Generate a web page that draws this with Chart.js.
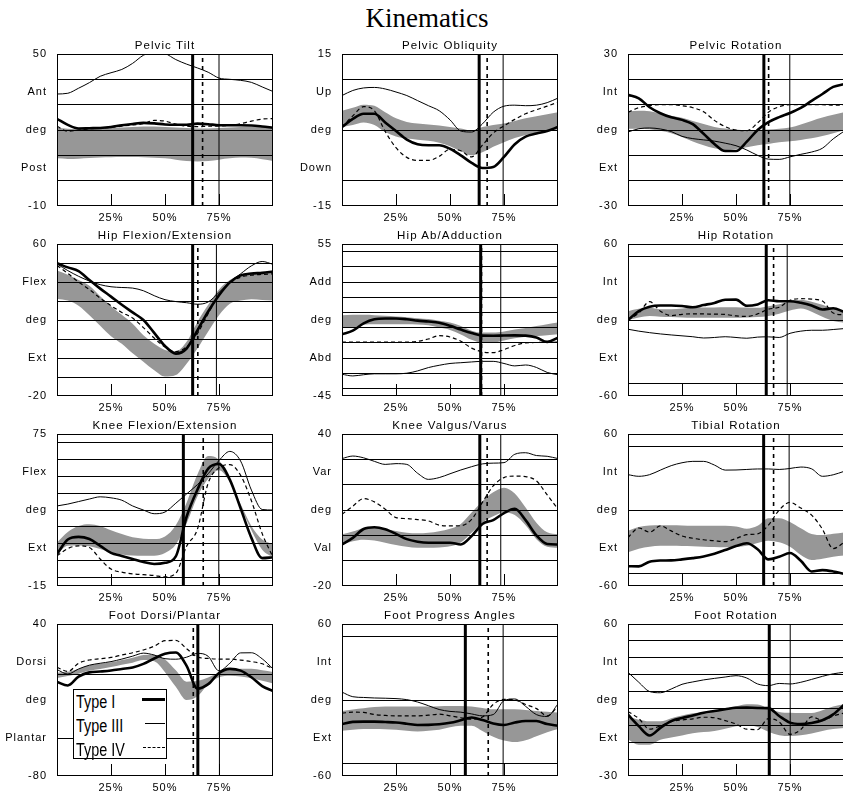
<!DOCTYPE html>
<html>
<head>
<meta charset="utf-8">
<title>Kinematics</title>
<script src="https://cdn.jsdelivr.net/npm/chart.js@4.4.1/dist/chart.umd.min.js"></script>
<style>
  html, body { margin: 0; padding: 0; background: #fff; }
  body { width: 843px; height: 798px; position: relative; overflow: hidden; font-family: "Liberation Sans", Arial, sans-serif; }
  canvas { position: absolute; }
  .ttl { position: absolute; width: 216px; text-align: center; font-size: 11.5px; letter-spacing: 1.1px; line-height: 11px; color: #000; white-space: nowrap; }
  #main { position: absolute; left: 300px; width: 254px; top: 5px; text-align: center; font-family: "Liberation Serif", "Times New Roman", serif; font-size: 27px; line-height: 27px; }
  #legend { position: absolute; left: 73px; top: 689px; width: 92px; height: 68px; border: 1px solid #000; background: #fff; z-index: 5; }
  #legend .lt { position: absolute; left: 2px; font-size: 18px; line-height: 18px; transform: scaleX(0.8); transform-origin: left center; white-space: nowrap; }
  #legend .ls { position: absolute; height: 0; border-top-color: #000; }
</style>
</head>
<body>
<div id="main">Kinematics</div>
<div id="legend">
  <span class="lt" style="top:3px">Type I</span>
  <span class="ls" style="left:68px; width:23px; top:8px; border-top:3px solid #000"></span>
  <span class="lt" style="top:27px">Type III</span>
  <span class="ls" style="left:71px; width:20px; top:33px; border-top:1px solid #000"></span>
  <span class="lt" style="top:51px">Type IV</span>
  <span class="ls" style="left:69px; width:22px; top:57px; border-top:1px dashed #000"></span>
</div>
<script>
// gait cycle samples (%)
const pct = [0, 5, 10, 15, 20, 25, 30, 35, 40, 45, 50, 55, 60, 65, 70, 75, 80, 85, 90, 95, 100];
const xTicks = [25, 50, 75];

// Pelvic Tilt
const tiltRange = [-10, 50];
const tiltLabels = ['50', 'Ant', 'deg', 'Post', '-10'];
const tiltGrid = [0, 10, 20, 30, 40];
const tiltToeOff = [62.8, 75.0, 67.4];
const tiltNormHi = [21.0, 20.5, 20.3, 20.5, 20.6, 20.8, 21.0, 21.2, 21.4, 21.4, 21.2, 21.0, 20.8, 20.6, 20.6, 20.8, 21.0, 21.2, 21.3, 21.2, 21.0];
const tiltNormLo = [8.8, 8.6, 8.7, 8.9, 9.1, 9.2, 9.3, 9.3, 9.2, 9.0, 8.8, 8.3, 7.8, 7.6, 7.8, 8.3, 8.8, 9.1, 9.0, 8.5, 7.8];
const tiltTypeI = [24.4, 22.0, 20.6, 20.7, 20.8, 21.2, 21.9, 22.4, 22.8, 22.6, 22.2, 22.1, 22.1, 22.5, 22.3, 21.9, 21.9, 21.9, 21.8, 21.4, 20.9];
const tiltTypeIII = [34.2, 34.5, 36.5, 38.7, 41.2, 42.6, 43.9, 46.3, 49.5, 50.8, 50.2, 47.8, 46.0, 44.5, 42.8, 40.5, 40.0, 39.6, 38.8, 37.0, 35.2];
const tiltTypeIV = [21.5, 19.5, 20.0, 20.5, 20.7, 21.0, 21.5, 22.0, 22.5, 23.8, 23.5, 22.3, 21.5, 21.3, 21.5, 21.6, 21.8, 22.5, 23.5, 24.3, 24.5];

// Pelvic Obliquity
const obliqRange = [-15, 15];
const obliqLabels = ['15', 'Up', 'deg', 'Down', '-15'];
const obliqGrid = [-10, 0, 10];
const obliqToeOff = [63.5, 74.6, 67.2];
const obliqNormHi = [3.8, 4.4, 5.0, 4.8, 3.5, 2.3, 1.6, 1.3, 1.1, 0.9, 0.6, 0.3, -0.1, 0.6, 1.0, 1.3, 1.8, 2.3, 2.7, 3.1, 3.5];
const obliqNormLo = [0.6, 1.0, 1.5, 1.0, -0.4, -1.3, -1.7, -1.9, -2.1, -2.5, -3.2, -4.2, -5.0, -4.4, -3.3, -2.4, -1.6, -1.0, -0.6, -0.2, 0.1];
const obliqTypeI = [0.6, 2.2, 3.2, 3.2, 1.5, -0.2, -1.9, -2.8, -3.0, -3.0, -3.7, -5.0, -6.5, -7.5, -7.3, -5.3, -2.8, -1.3, -0.7, -0.2, 0.6];
const obliqTypeIII = [6.8, 7.8, 8.3, 8.4, 8.1, 7.5, 6.8, 5.8, 4.8, 3.8, 2.0, -0.2, -0.4, 1.2, 3.5, 4.7, 4.9, 4.8, 4.9, 5.4, 6.3];
const obliqTypeIV = [0.6, 2.8, 4.6, 3.8, -0.3, -3.5, -5.4, -6.0, -6.0, -5.2, -3.8, -4.1, -5.3, -3.0, -0.6, 0.8, 2.1, 3.2, 4.0, 4.7, 5.5];

// Pelvic Rotation
const pelRotRange = [-30, 30];
const pelRotLabels = ['30', 'Int', 'deg', 'Ext', '-30'];
const pelRotGrid = [-20, -10, 0, 10, 20];
const pelRotToeOff = [62.9, 74.9, 65.1];
const pelRotNormHi = [7.3, 7.6, 7.4, 6.5, 5.6, 4.8, 3.6, 2.4, 1.2, 0.6, 0.2, -0.1, 0.0, 0.2, 0.5, 1.0, 2.2, 3.6, 4.9, 6.0, 7.0];
const pelRotNormLo = [0.5, 0.5, 0.3, -0.3, -1.3, -2.8, -4.5, -6.0, -7.2, -7.9, -7.5, -6.8, -6.0, -5.5, -4.8, -4.4, -3.9, -3.3, -2.4, -1.3, -0.1];
const pelRotTypeI = [13.9, 12.5, 9.0, 6.6, 5.0, 4.0, 2.3, -1.5, -5.5, -8.3, -8.3, -4.6, 0.0, 3.1, 5.1, 6.7, 8.7, 11.5, 14.2, 17.0, 18.1];
const pelRotTypeIII = [-0.8, 0.5, 0.8, 0.4, -0.6, -2.5, -3.4, -3.9, -4.4, -5.2, -6.2, -7.9, -10.0, -11.5, -11.6, -10.6, -9.6, -8.7, -7.2, -3.5, -0.5];
const pelRotTypeIV = [7.0, 8.8, 9.6, 10.0, 10.0, 9.6, 8.8, 7.2, 3.8, 1.3, 0.0, -0.3, 2.8, 7.0, 9.2, 10.0, 10.0, 10.0, 10.0, 9.8, 9.8];

// Hip Flexion/Extension
const hipFlexRange = [-20, 60];
const hipFlexLabels = ['60', 'Flex', 'deg', 'Ext', '-20'];
const hipFlexGrid = [-10, 0, 10, 20, 30, 40, 50];
const hipFlexToeOff = [62.8, 73.8, 65.2];
const hipFlexNormHi = [46.0, 43.8, 41.0, 38.0, 32.5, 27.3, 22.7, 18.0, 12.0, 7.5, 4.2, 3.5, 8.5, 19.0, 28.0, 36.0, 41.0, 43.5, 44.4, 44.8, 45.2];
const hipFlexNormLo = [31.2, 30.2, 27.5, 22.5, 17.0, 11.5, 7.5, 2.5, -2.0, -6.5, -9.8, -9.0, -3.0, 5.0, 14.0, 22.5, 28.5, 30.2, 30.9, 30.5, 30.3];
const hipFlexTypeI = [49.9, 47.7, 45.7, 41.0, 36.5, 32.3, 28.0, 24.0, 20.0, 13.2, 6.3, 2.3, 5.0, 14.5, 24.5, 33.0, 39.8, 43.5, 44.5, 44.8, 45.5];
const hipFlexTypeIII = [49.5, 46.0, 43.0, 40.5, 38.6, 37.5, 37.1, 36.8, 35.4, 32.8, 30.7, 29.7, 29.1, 28.3, 29.5, 34.5, 40.0, 44.3, 48.5, 50.8, 49.3];
const hipFlexTypeIV = [48.7, 44.5, 40.0, 36.0, 31.5, 27.5, 24.0, 21.0, 16.0, 10.5, 5.8, 3.4, 5.9, 12.8, 23.5, 33.0, 39.5, 42.5, 43.6, 44.0, 44.3];

// Hip Ab/Adduction
const hipAbRange = [-45, 55];
const hipAbLabels = ['55', 'Add', 'deg', 'Abd', '-45'];
const hipAbGrid = [-40, -30, -20, -10, 0, 10, 20, 30, 40, 50];
const hipAbToeOff = [64.2, 73.5, 64.6];
const hipAbNormHi = [8.2, 8.5, 8.4, 8.2, 7.8, 7.3, 6.8, 6.2, 5.6, 4.5, 3.3, 1.0, -2.0, -3.3, -3.3, -2.5, -1.3, -0.2, 1.0, 2.2, 3.3];
const hipAbNormLo = [0.0, 0.0, 1.8, 2.2, 2.2, 2.2, 2.2, 2.0, 1.5, 0.0, -1.5, -4.5, -8.0, -10.0, -9.8, -8.5, -7.0, -6.0, -5.5, -5.0, -4.4];
const hipAbTypeI = [-4.4, -2.0, 2.8, 5.5, 6.0, 6.0, 5.5, 4.6, 4.0, 3.2, 1.2, -1.3, -3.6, -5.3, -5.4, -5.2, -5.1, -5.3, -6.5, -9.4, -6.7];
const hipAbTypeIII = [-30.7, -31.8, -31.0, -30.4, -30.4, -30.4, -30.0, -28.5, -26.3, -24.8, -23.6, -23.1, -22.6, -22.2, -22.2, -23.6, -25.2, -24.6, -26.2, -29.5, -31.0];
const hipAbTypeIV = [-9.6, -9.6, -9.6, -9.6, -9.6, -9.6, -9.6, -9.0, -7.5, -5.3, -6.2, -9.0, -13.5, -16.0, -16.5, -14.5, -11.8, -10.0, -9.8, -9.7, -9.6];

// Hip Rotation
const hipRotRange = [-60, 60];
const hipRotLabels = ['60', 'Int', 'deg', 'Ext', '-60'];
const hipRotGrid = [-50, 0, 50];
const hipRotToeOff = [64.0, 73.7, 67.4];
const hipRotNormHi = [7.0, 8.8, 9.6, 8.5, 8.5, 9.0, 9.6, 9.8, 9.9, 10.0, 10.1, 9.8, 9.6, 10.9, 12.5, 14.8, 16.0, 14.5, 12.0, 9.0, 7.0];
const hipRotNormLo = [0.0, 2.0, 3.1, 2.5, 2.3, 2.0, 1.8, 1.8, 1.8, 1.8, 1.8, 2.0, 2.3, 3.1, 5.0, 7.5, 9.0, 6.5, 2.5, -0.8, -2.1];
const hipRotTypeI = [0.0, 7.0, 10.5, 11.4, 11.4, 11.0, 10.1, 11.8, 13.5, 16.0, 16.1, 11.2, 12.3, 15.6, 14.8, 14.8, 13.6, 11.5, 8.3, 9.3, 6.5];
const hipRotTypeIII = [-7.3, -8.8, -10.0, -11.0, -11.8, -12.5, -13.2, -14.2, -13.8, -13.2, -13.8, -14.4, -13.5, -13.3, -13.8, -10.5, -8.8, -8.1, -8.1, -7.5, -6.8];
const hipRotTypeIV = [0.0, 5.5, 14.5, 7.0, 3.5, 4.5, 4.9, 4.8, 4.6, 4.4, 3.2, 2.8, 4.8, 8.5, 10.1, 15.5, 16.8, 16.5, 15.0, 5.5, 4.0];

// Knee Flexion/Extension
const kneeFlexRange = [-15, 75];
const kneeFlexLabels = ['75', 'Flex', 'deg', 'Ext', '-15'];
const kneeFlexGrid = [-10, 0, 10, 20, 30, 40, 50, 60, 70];
const kneeFlexToeOff = [58.5, 74.9, 67.7];
const kneeFlexNormHi = [10.8, 17.0, 20.5, 21.5, 20.6, 18.0, 15.8, 13.8, 13.0, 12.8, 14.3, 21.0, 34.3, 51.0, 62.0, 59.5, 47.0, 33.5, 20.5, 12.5, 9.8];
const kneeFlexNormLo = [3.9, 8.8, 9.0, 8.5, 6.9, 5.0, 3.6, 3.0, 2.9, 2.9, 4.5, 9.5, 22.0, 38.0, 48.5, 53.5, 46.5, 32.0, 18.0, 6.5, 2.0];
const kneeFlexTypeI = [3.9, 12.5, 14.1, 12.8, 8.8, 4.6, 2.8, 1.0, -0.8, -2.0, -1.3, 2.5, 26.0, 42.0, 54.5, 57.2, 48.0, 31.0, 13.5, 1.5, 2.0];
const kneeFlexTypeIII = [32.4, 33.5, 35.0, 36.5, 37.8, 37.2, 35.8, 32.4, 30.0, 27.8, 28.8, 34.0, 39.5, 45.0, 51.5, 59.3, 64.7, 59.0, 41.8, 30.3, 30.0];
const kneeFlexTypeIV = [2.9, 7.2, 8.8, 7.8, 1.0, -5.0, -6.8, -7.8, -8.3, -8.8, -9.6, -7.5, 8.5, 18.6, 46.0, 55.0, 56.9, 50.5, 35.5, 16.0, 2.0];

// Knee Valgus/Varus
const kneeVarRange = [-20, 40];
const kneeVarLabels = ['40', 'Var', 'deg', 'Val', '-20'];
const kneeVarGrid = [-10, 0, 10, 20, 30];
const kneeVarToeOff = [63.8, 73.5, 67.2];
const kneeVarNormHi = [0.4, 1.5, 2.8, 3.0, 2.4, 1.7, 1.0, 0.8, 1.0, 1.6, 2.6, 4.5, 9.0, 13.5, 17.0, 18.8, 16.5, 11.0, 5.0, 1.2, 0.4];
const kneeVarNormLo = [-3.6, -2.3, -1.7, -2.0, -2.9, -3.8, -4.5, -4.9, -4.9, -4.8, -4.3, -2.8, 1.0, 5.0, 7.5, 9.0, 8.0, 4.0, -1.5, -4.5, -4.9];
const kneeVarTypeI = [-3.6, -1.0, 2.5, 3.2, 2.4, 0.6, -1.5, -2.5, -2.9, -2.9, -2.9, -3.6, -0.3, 4.5, 6.0, 8.8, 10.5, 6.0, 0.0, -3.4, -3.6];
const kneeVarTypeIII = [30.3, 31.3, 30.6, 29.2, 28.0, 28.3, 28.0, 24.5, 22.1, 22.8, 24.3, 25.8, 27.1, 28.2, 28.5, 28.7, 32.0, 32.6, 31.5, 31.2, 30.3];
const kneeVarTypeIV = [8.3, 11.5, 14.5, 13.2, 10.3, 7.0, 6.6, 6.2, 5.7, 4.0, 3.7, 3.8, 6.3, 13.0, 19.5, 22.8, 23.4, 23.2, 21.5, 16.0, 10.3];

// Tibial Rotation
const tibRotRange = [-60, 60];
const tibRotLabels = ['60', 'Int', 'deg', 'Ext', '-60'];
const tibRotGrid = [-50, 0, 50];
const tibRotToeOff = [62.8, 74.6, 67.4];
const tibRotNormHi = [-16.4, -13.5, -12.3, -12.0, -12.0, -12.2, -12.5, -12.5, -12.5, -12.5, -13.0, -14.8, -12.5, -6.5, -6.5, -9.5, -14.5, -19.0, -19.8, -18.8, -17.8];
const tibRotNormLo = [-33.4, -30.5, -29.0, -28.2, -28.3, -28.5, -28.7, -29.0, -29.2, -29.5, -29.0, -28.2, -26.0, -24.3, -25.5, -29.0, -35.5, -39.5, -38.5, -37.0, -36.0];
const tibRotTypeI = [-44.4, -44.5, -40.8, -39.9, -39.8, -39.0, -38.0, -36.7, -34.5, -31.6, -28.5, -26.3, -31.0, -39.0, -37.0, -34.0, -40.0, -48.5, -47.5, -48.5, -50.4];
const tibRotTypeIII = [27.9, 26.6, 27.9, 31.5, 35.0, 37.3, 38.4, 38.4, 35.5, 31.5, 31.6, 32.0, 32.4, 32.4, 32.0, 32.8, 33.9, 32.5, 26.6, 27.8, 30.5];
const tibRotTypeIV = [-21.7, -14.2, -17.5, -12.5, -16.5, -20.5, -22.3, -23.5, -24.3, -25.0, -22.5, -19.5, -18.8, -12.0, 0.0, 6.0, 1.5, -4.0, -15.1, -30.5, -25.6];

// Foot Dorsi/Plantar
const footDPRange = [-80, 40];
const footDPLabels = ['40', 'Dorsi', 'deg', 'Plantar', '-80'];
const footDPGrid = [-50, 0];
const footDPToeOff = [65.2, 75.2, 63.1];
const footDPNormHi = [1.5, 2.3, 4.5, 7.5, 8.7, 9.8, 11.5, 13.3, 15.5, 15.8, 12.0, 3.5, -5.5, -5.0, -2.3, 1.7, 4.0, 4.6, 4.6, 3.5, 2.1];
const footDPNormLo = [-2.6, -1.0, 0.8, 3.0, 4.4, 6.0, 7.8, 9.5, 11.5, 10.5, 2.0, -9.5, -20.0, -17.0, -7.5, -2.0, -0.8, -1.5, -2.8, -4.8, -6.9];
const footDPTypeI = [-5.7, -8.5, -1.5, 1.8, 2.5, 3.3, 4.5, 5.7, 8.5, 12.8, 16.5, 17.5, 7.0, -11.0, -7.5, 1.3, 4.6, 3.2, -2.0, -9.0, -12.9];
const footDPTypeIII = [4.0, 0.5, 4.5, 7.5, 9.0, 10.3, 12.3, 14.6, 17.0, 15.5, 12.6, 12.2, 13.8, 16.8, 14.5, 3.0, 9.0, 17.2, 17.3, 12.5, 4.6];
const footDPTypeIV = [5.9, 2.5, 9.0, 11.6, 12.6, 13.6, 15.5, 17.3, 19.5, 22.5, 26.8, 27.0, 20.5, 14.0, 12.8, 12.3, 12.3, 11.5, 10.3, 8.6, 4.6];

// Foot Progress Angles
const footProgRange = [-60, 60];
const footProgLabels = ['60', 'Int', 'deg', 'Ext', '-60'];
const footProgGrid = [-50, 0, 50];
const footProgToeOff = [57.1, 74.6, 67.7];
const footProgNormHi = [-8.6, -7.5, -6.5, -5.6, -5.2, -5.2, -5.2, -5.2, -5.1, -4.9, -4.7, -4.7, -5.2, -6.3, -7.3, -7.3, -7.3, -7.8, -8.6, -9.2, -9.9];
const footProgNormLo = [-24.2, -23.5, -22.9, -22.9, -23.0, -23.5, -24.3, -24.9, -24.2, -23.4, -21.5, -20.3, -20.3, -24.5, -29.0, -32.0, -33.2, -31.8, -28.6, -25.5, -22.9];
const footProgTypeI = [-19.0, -17.3, -17.1, -17.1, -17.4, -17.8, -18.7, -19.7, -19.6, -19.1, -18.0, -16.0, -13.8, -15.8, -18.5, -19.7, -17.8, -16.6, -16.6, -19.0, -20.3];
const footProgTypeIII = [6.2, 2.6, 2.0, 1.6, 1.4, 1.1, 0.3, -1.6, -4.5, -7.5, -9.0, -9.6, -11.0, -12.5, -11.5, -0.5, 0.8, -5.0, -11.5, -13.0, -3.0];
const footProgTypeIV = [-10.4, -9.6, -9.8, -11.5, -12.2, -12.5, -12.5, -12.5, -12.0, -11.2, -12.5, -14.0, -15.1, -13.5, -3.5, 0.5, 0.0, -3.5, -6.8, -12.5, -5.0];

// Foot Rotation
const footRotRange = [-30, 60];
const footRotLabels = ['60', 'Int', 'deg', 'Ext', '-30'];
const footRotGrid = [-20, -10, 0, 10, 20, 30, 40, 50];
const footRotToeOff = [65.4, 75.1, 65.4];
const footRotNormHi = [5.3, 3.3, 2.4, 2.4, 4.2, 5.8, 7.1, 7.8, 8.3, 9.8, 11.3, 12.5, 12.4, 10.0, 7.9, 7.4, 7.3, 7.3, 9.0, 11.2, 12.5];
const footRotNormLo = [-8.4, -11.5, -11.5, -8.6, -7.2, -6.0, -4.7, -4.0, -3.3, -2.0, -0.6, 0.2, -1.0, -3.8, -5.8, -6.3, -5.8, -4.8, -3.3, -2.2, -1.6];
const footRotTypeI = [6.3, -0.5, -6.0, -1.5, 2.5, 4.4, 5.8, 7.5, 8.5, 9.5, 10.4, 10.5, 10.3, 10.2, 5.5, 1.6, 0.8, 1.4, 3.0, 6.5, 12.2];
const footRotTypeIII = [31.4, 25.5, 20.0, 19.3, 21.5, 24.3, 25.7, 26.9, 27.8, 28.6, 29.4, 28.0, 24.5, 23.5, 24.8, 24.5, 25.5, 27.2, 29.0, 30.5, 31.4];
const footRotTypeIV = [8.2, 4.0, -2.3, -0.3, 2.2, 3.2, 3.8, 4.8, 4.5, 2.8, 0.8, -2.3, -2.5, 4.0, 2.0, -5.3, -2.5, 5.0, 3.0, 5.5, 7.3];

const panels = [
  { title: 'Pelvic Tilt', range: tiltRange, labels: tiltLabels, grid: tiltGrid, toe: tiltToeOff, hi: tiltNormHi, lo: tiltNormLo, t1: tiltTypeI, t3: tiltTypeIII, t4: tiltTypeIV },
  { title: 'Pelvic Obliquity', range: obliqRange, labels: obliqLabels, grid: obliqGrid, toe: obliqToeOff, hi: obliqNormHi, lo: obliqNormLo, t1: obliqTypeI, t3: obliqTypeIII, t4: obliqTypeIV },
  { title: 'Pelvic Rotation', range: pelRotRange, labels: pelRotLabels, grid: pelRotGrid, toe: pelRotToeOff, hi: pelRotNormHi, lo: pelRotNormLo, t1: pelRotTypeI, t3: pelRotTypeIII, t4: pelRotTypeIV },
  { title: 'Hip Flexion/Extension', range: hipFlexRange, labels: hipFlexLabels, grid: hipFlexGrid, toe: hipFlexToeOff, hi: hipFlexNormHi, lo: hipFlexNormLo, t1: hipFlexTypeI, t3: hipFlexTypeIII, t4: hipFlexTypeIV },
  { title: 'Hip Ab/Adduction', range: hipAbRange, labels: hipAbLabels, grid: hipAbGrid, toe: hipAbToeOff, hi: hipAbNormHi, lo: hipAbNormLo, t1: hipAbTypeI, t3: hipAbTypeIII, t4: hipAbTypeIV },
  { title: 'Hip Rotation', range: hipRotRange, labels: hipRotLabels, grid: hipRotGrid, toe: hipRotToeOff, hi: hipRotNormHi, lo: hipRotNormLo, t1: hipRotTypeI, t3: hipRotTypeIII, t4: hipRotTypeIV },
  { title: 'Knee Flexion/Extension', range: kneeFlexRange, labels: kneeFlexLabels, grid: kneeFlexGrid, toe: kneeFlexToeOff, hi: kneeFlexNormHi, lo: kneeFlexNormLo, t1: kneeFlexTypeI, t3: kneeFlexTypeIII, t4: kneeFlexTypeIV },
  { title: 'Knee Valgus/Varus', range: kneeVarRange, labels: kneeVarLabels, grid: kneeVarGrid, toe: kneeVarToeOff, hi: kneeVarNormHi, lo: kneeVarNormLo, t1: kneeVarTypeI, t3: kneeVarTypeIII, t4: kneeVarTypeIV },
  { title: 'Tibial Rotation', range: tibRotRange, labels: tibRotLabels, grid: tibRotGrid, toe: tibRotToeOff, hi: tibRotNormHi, lo: tibRotNormLo, t1: tibRotTypeI, t3: tibRotTypeIII, t4: tibRotTypeIV },
  { title: 'Foot Dorsi/Plantar', range: footDPRange, labels: footDPLabels, grid: footDPGrid, toe: footDPToeOff, hi: footDPNormHi, lo: footDPNormLo, t1: footDPTypeI, t3: footDPTypeIII, t4: footDPTypeIV },
  { title: 'Foot Progress Angles', range: footProgRange, labels: footProgLabels, grid: footProgGrid, toe: footProgToeOff, hi: footProgNormHi, lo: footProgNormLo, t1: footProgTypeI, t3: footProgTypeIII, t4: footProgTypeIV },
  { title: 'Foot Rotation', range: footRotRange, labels: footRotLabels, grid: footRotGrid, toe: footRotToeOff, hi: footRotNormHi, lo: footRotNormLo, t1: footRotTypeI, t3: footRotTypeIII, t4: footRotTypeIV }
];

// page layout (plot area of each panel)
const colLeft = [57, 342, 628];
const rowTop = [54, 244, 434, 624];
const plotW = 216, plotH = 152;
const padL = 56, padT = 10, padR = 6, padB = 24;
const bandColor = '#979797';
const fontFam = '"Liberation Sans", Arial, sans-serif';

function pts(arr) {
  return pct.map((x, i) => ({ x: x, y: arr[i] }));
}

// spaced-out bitmap look of the original labels
const letterSpace = { id: 'letterSpace', beforeDraw(c) { c.ctx.letterSpacing = '1px'; } };
// box round the plot area
const frame = {
  id: 'frame',
  afterDraw(c) {
    const a = c.chartArea, ctx = c.ctx;
    ctx.save();
    ctx.strokeStyle = '#000';
    ctx.lineWidth = 1;
    ctx.strokeRect(a.left + 0.5, a.top + 0.5, a.width - 1, a.height - 1);
    ctx.restore();
  }
};

panels.forEach((p, k) => {
  const col = k % 3, row = Math.floor(k / 3);
  const left = colLeft[col], top = rowTop[row];

  const cv = document.createElement('canvas');
  cv.width = padL + plotW + padR;
  cv.height = padT + plotH + padB;
  cv.style.left = (left - padL) + 'px';
  cv.style.top = (top - padT) + 'px';
  document.body.appendChild(cv);

  const t = document.createElement('div');
  t.className = 'ttl';
  t.textContent = p.title;
  t.style.left = left + 'px';
  t.style.top = (top - 14) + 'px';
  document.body.appendChild(t);

  const ymin = p.range[0], ymax = p.range[1];
  const span = ymax - ymin;
  const vline = x => [{ x: x, y: ymin }, { x: x, y: ymax }];
  const curve = { pointRadius: 0, cubicInterpolationMode: 'monotone', fill: false };
  const straight = { pointRadius: 0, tension: 0, fill: false, borderColor: '#000' };

  new Chart(cv, {
    type: 'line',
    data: {
      datasets: [
        Object.assign({ data: pts(p.lo), borderColor: 'rgba(0,0,0,0)', borderWidth: 0, order: 10 }, curve),
        Object.assign({}, curve, { data: pts(p.hi), borderColor: 'rgba(0,0,0,0)', borderWidth: 0, fill: '-1', backgroundColor: bandColor, order: 10 }),
        Object.assign({ data: pts(p.t4), borderColor: '#000', borderWidth: 1.2, borderDash: [4, 3], order: 3 }, curve),
        Object.assign({ data: pts(p.t3), borderColor: '#000', borderWidth: 1, order: 2 }, curve),
        Object.assign({ data: pts(p.t1), borderColor: '#000', borderWidth: 2.6, order: 1 }, curve),
        Object.assign({ data: vline(p.toe[0]), borderWidth: 3, order: 4 }, straight),
        Object.assign({ data: vline(p.toe[1]), borderWidth: 1, order: 4 }, straight),
        Object.assign({ data: vline(p.toe[2]), borderWidth: 1.6, borderDash: [4, 4], order: 4 }, straight)
      ]
    },
    options: {
      responsive: false,
      animation: false,
      events: [],
      layout: { padding: { top: padT, right: padR, left: 0, bottom: 0 } },
      plugins: { legend: { display: false }, tooltip: { enabled: false }, title: { display: false } },
      scales: {
        x: {
          type: 'linear', min: 0, max: 100, position: 'bottom',
          afterBuildTicks: s => { s.ticks = xTicks.map(v => ({ value: v })); },
          afterFit: s => { s.height = padB; },
          ticks: { callback: v => v + '%', color: '#000', font: { size: 11, family: fontFam }, padding: 17, maxRotation: 0, autoSkip: false },
          grid: { drawOnChartArea: false, drawTicks: true, tickLength: -12, tickColor: '#000', tickWidth: 1, z: 1 },
          border: { display: false }
        },
        y: {
          type: 'linear', min: ymin, max: ymax, position: 'left',
          afterBuildTicks: s => { s.ticks = [0, 1, 2, 3, 4].map(q => ({ value: ymin + span * q / 4 })); },
          afterFit: s => { s.width = padL; },
          ticks: {
            callback: v => p.labels[Math.round((ymax - v) / span * 4)],
            color: '#000', font: { size: 11, family: fontFam }, padding: 2, autoSkip: false
          },
          grid: { display: false },
          border: { display: false }
        },
        y2: {
          type: 'linear', min: ymin, max: ymax, position: 'right',
          afterBuildTicks: s => { s.ticks = p.grid.map(v => ({ value: v })); },
          afterFit: s => { s.width = 0; },
          ticks: { display: false },
          grid: { color: '#000', lineWidth: 1, drawTicks: false, z: 1 },
          border: { display: false }
        }
      }
    },
    plugins: [letterSpace, frame]
  });
});
</script>
</body>
</html>
